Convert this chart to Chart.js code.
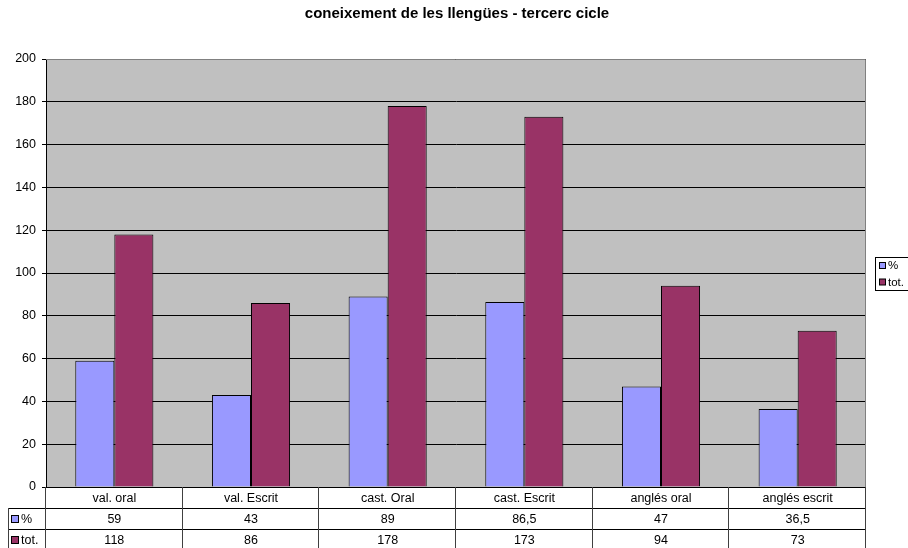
<!DOCTYPE html>
<html>
<head>
<meta charset="utf-8">
<script src="https://cdn.jsdelivr.net/npm/chart.js@4"></script>
<style>
  html, body { margin: 0; padding: 0; background: #fff; }
  #wrap { width: 908px; height: 548px; }
</style>
</head>
<body>
<div id="wrap"><canvas id="c" width="908" height="548"></canvas></div>
<script>
// Skills by language, third cycle
const titleText = 'coneixement de les llengües - tercerc cicle';
const categories = ['val. oral', 'val. Escrit', 'cast. Oral', 'cast. Escrit', 'anglés oral', 'anglés escrit'];
const seriesNames = ['%', 'tot.'];
const pctValues = [59, 43, 89, 86.5, 47, 36.5];
const totValues = [118, 86, 178, 173, 94, 73];
const seriesColors = ['#9999FF', '#993366'];

const FONT = '"Liberation Sans", Arial, sans-serif';
const fmt = v => String(v).replace('.', ',');

// Plot background, title, data table under the axis and the legend box
const decorations = {
  id: 'decorations',
  beforeDatasetsDraw(chart) {
    // nothing: background is drawn earlier
  },
  beforeDraw(chart) {
    const { ctx, chartArea: a } = chart;
    ctx.save();
    ctx.fillStyle = '#C0C0C0';
    ctx.fillRect(a.left, a.top, a.right - a.left, a.bottom - a.top);
    ctx.restore();
  },
  afterDraw(chart) {
    const { ctx, chartArea: a } = chart;
    const xs = chart.scales.x;
    const n = categories.length;
    const colW = (a.right - a.left) / n;
    ctx.save();

    // plot frame (top/right in grey)
    ctx.strokeStyle = '#808080';
    ctx.lineWidth = 1;
    ctx.beginPath();
    ctx.moveTo(a.left, a.top + 0.5);
    ctx.lineTo(a.right - 0.5, a.top + 0.5);
    ctx.lineTo(a.right - 0.5, a.bottom);
    ctx.stroke();

    // title
    ctx.fillStyle = '#000';
    ctx.font = 'bold 15px ' + FONT;
    ctx.textAlign = 'center';
    ctx.textBaseline = 'middle';
    ctx.fillText(titleText, 457, 14);

    // data table
    const rowH = 21;
    const y0 = Math.round(a.bottom);
    const tableLeft = 8;
    ctx.strokeStyle = '#000';
    ctx.beginPath();
    // horizontal rules
    ctx.moveTo(a.left, y0 + 0.5); ctx.lineTo(a.right, y0 + 0.5);
    for (let r = 1; r <= 3; r++) {
      ctx.moveTo(tableLeft, y0 + r * rowH + 0.5);
      ctx.lineTo(a.right, y0 + r * rowH + 0.5);
    }
    ctx.stroke();
    ctx.strokeStyle = '#404040';
    ctx.beginPath();
    for (let i = 0; i <= n; i++) {
      const x = Math.round(a.left + i * colW) - 0.5;
      ctx.moveTo(x, y0); ctx.lineTo(x, y0 + 3 * rowH);
    }
    ctx.moveTo(tableLeft + 0.5, y0 + rowH); ctx.lineTo(tableLeft + 0.5, y0 + 3 * rowH);
    ctx.stroke();

    ctx.font = '12.5px ' + FONT;
    ctx.fillStyle = '#000';
    ctx.textAlign = 'center';
    ctx.textBaseline = 'middle';
    const rows = [categories, pctValues.map(fmt), totValues.map(fmt)];
    rows.forEach((row, r) => {
      row.forEach((txt, i) => {
        const cx = xs.getPixelForValue(i);
        ctx.fillText(txt, cx, y0 + r * rowH + rowH / 2 + 1);
      });
    });
    // row headers with swatches
    ctx.textAlign = 'left';
    seriesNames.forEach((name, s) => {
      const cy = y0 + (s + 1) * rowH + rowH / 2 + 1;
      ctx.fillStyle = seriesColors[s];
      ctx.fillRect(11.5, cy - 4, 7, 7);
      ctx.strokeStyle = '#000';
      ctx.strokeRect(11.5, cy - 4, 7, 7);
      ctx.fillStyle = '#000';
      ctx.fillText(name, 21, cy);
    });

    // legend
    const lx = 875.5, ly = 257.5;
    ctx.strokeStyle = '#000';
    ctx.fillStyle = '#fff';
    ctx.fillRect(lx, ly, 40, 33);
    ctx.strokeRect(lx, ly, 40, 33);
    seriesNames.forEach((name, s) => {
      const cy = ly + 8.5 + s * 16.5;
      ctx.fillStyle = seriesColors[s];
      ctx.fillRect(879.5, cy - 3.5, 6, 6);
      ctx.strokeStyle = '#000';
      ctx.strokeRect(879.5, cy - 3.5, 6, 6);
      ctx.fillStyle = '#000';
      ctx.font = '11.5px ' + FONT;
      ctx.fillText(name, 888, cy);
    });
    ctx.restore();
  }
};

new Chart(document.getElementById('c'), {
  type: 'bar',
  data: {
    labels: categories,
    datasets: [
      { label: seriesNames[0], data: pctValues, backgroundColor: seriesColors[0],
        borderColor: '#000', borderWidth: 1, borderSkipped: 'bottom' },
      { label: seriesNames[1], data: totValues, backgroundColor: seriesColors[1],
        borderColor: '#000', borderWidth: 1, borderSkipped: 'bottom' }
    ]
  },
  options: {
    responsive: false,
    animation: false,
    devicePixelRatio: 1,
    layout: { padding: { left: 0, top: 59, right: 42, bottom: 61 } },
    datasets: { bar: { categoryPercentage: 2 / 3.5, barPercentage: 1 } },
    plugins: { legend: { display: false }, tooltip: { enabled: false }, title: { display: false } },
    scales: {
      x: { display: false, offset: true },
      y: {
        min: 0, max: 200,
        afterFit(scale) { scale.width = 46; },
        ticks: { stepSize: 20, color: '#000', padding: 6, font: { family: FONT, size: 12.5 } },
        grid: { color: '#000', lineWidth: 1, tickLength: 4, drawTicks: true },
        border: { display: true, color: '#000', width: 1 }
      }
    }
  },
  plugins: [decorations]
});
</script>
</body>
</html>
